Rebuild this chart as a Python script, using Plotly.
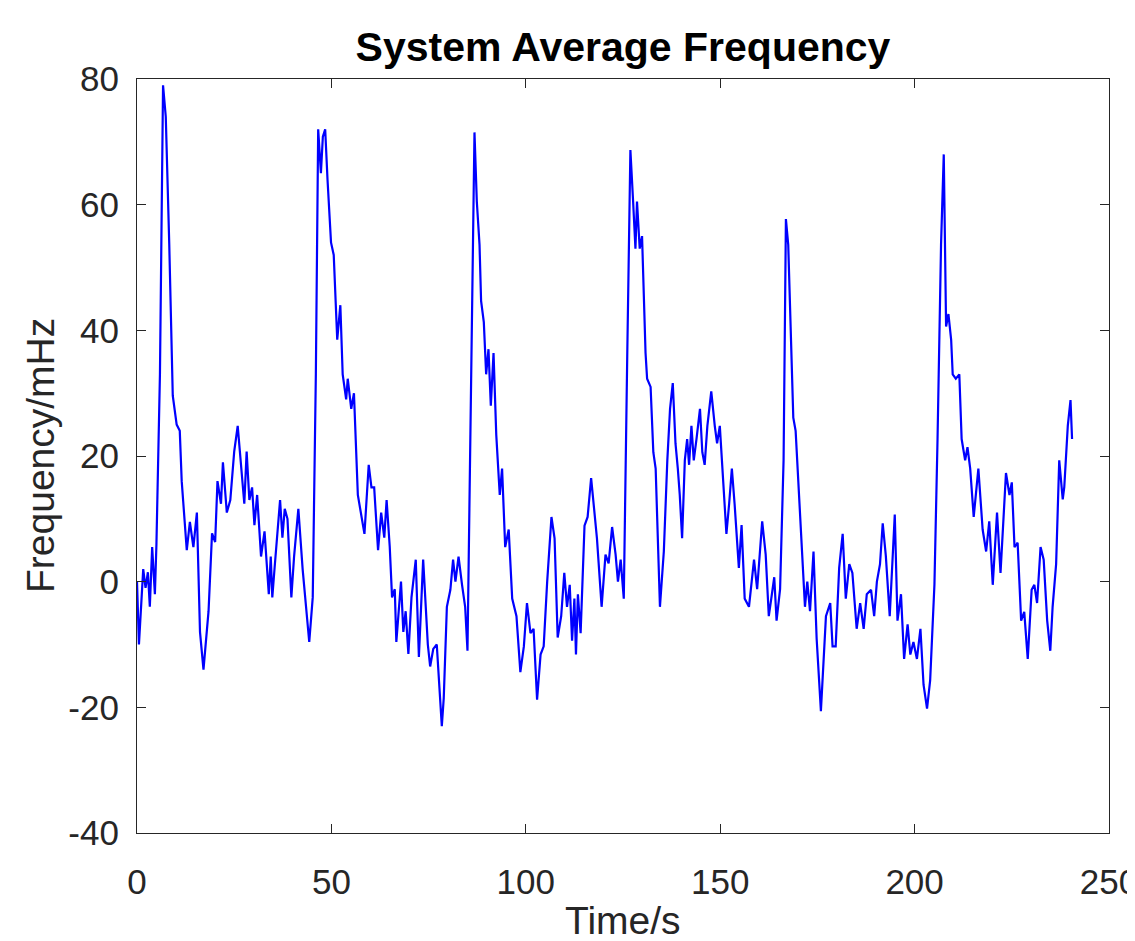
import plotly.graph_objects as go

time_s = [
    0, 0.5, 1.6, 2.2, 2.8, 3.3, 3.9, 4.6, 5.0, 5.9, 6.7, 7.4, 8.3, 9.2, 10.2, 11.0, 11.5, 12.3, 12.8, 13.6,
    14.5, 15.4, 16.2, 17.1, 18.4, 19.3, 20.1, 20.7, 21.6, 22.1, 23.1, 24.0, 25.0, 25.9, 27.0, 27.6, 28.2, 28.9,
    29.6, 30.2, 30.9, 31.9, 32.8, 33.3, 33.9, 34.4, 34.8, 35.4, 36.1, 36.8, 37.4, 38.0, 38.7, 39.7, 40.4, 41.5,
    42.6, 43.2, 44.3, 45.2, 46.0, 46.6, 47.3, 47.8, 48.4, 49.0, 49.9, 50.6, 51.5, 52.3, 52.9, 53.8, 54.2, 55.1,
    55.8, 56.8, 57.7, 58.5, 59.6, 60.3, 61.0, 62.0, 62.8, 63.6, 64.2, 65.0, 65.6, 66.3, 66.7, 67.9, 68.5, 69.1,
    69.8, 70.6, 71.7, 72.5, 73.6, 74.8, 75.4, 76.2, 77.1, 78.4, 78.9, 79.7, 80.6, 81.3, 81.9, 82.7, 83.6, 84.4,
    85.0, 85.9, 86.8, 87.4, 88.1, 88.5, 89.2, 89.8, 90.4, 91.0, 91.7, 92.4, 93.3, 93.9, 94.7, 95.6, 96.5, 97.6,
    98.6, 99.5, 100.3, 101.2, 102.0, 102.9, 103.8, 104.6, 105.5, 106.6, 107.4, 108.2, 109.1, 109.9, 110.6, 111.3,
    111.9, 112.5, 112.9, 113.4, 114.1, 115.1, 115.9, 116.8, 117.5, 118.3, 119.5, 120.5, 121.3, 122.2, 123.1, 123.7,
    124.4, 125.2, 126.1, 126.9, 127.6, 128.2, 128.6, 129.3, 129.9, 130.8, 131.2, 132.1, 132.8, 133.4, 134.5, 135.5,
    136.4, 137.1, 137.8, 138.5, 139.1, 139.6, 140.2, 140.9, 141.5, 142.0, 142.6, 143.2, 143.9, 144.8, 145.4, 146.0,
    146.7, 147.7, 148.6, 149.2, 149.9, 150.8, 151.6, 152.3, 153.0, 153.7, 154.2, 154.8, 155.5, 156.3, 157.4, 158.7,
    159.5, 160.8, 161.7, 162.5, 163.0, 163.9, 164.5, 165.4, 166.3, 166.9, 167.5, 168.2, 168.8, 169.4, 170.3, 171.2,
    171.8, 172.4, 173.1, 174.0, 174.8, 175.9, 177.2, 178.3, 178.9, 179.7, 180.6, 181.5, 182.3, 183.2, 184.0, 185.1,
    186.0, 186.9, 187.7, 188.8, 189.6, 190.3, 191.1, 191.8, 192.6, 193.6, 194.9, 195.6, 196.5, 197.3, 198.2, 198.9,
    199.7, 200.6, 201.5, 202.3, 203.2, 204.0, 205.1, 205.9, 206.8, 207.5, 208.1, 208.7, 209.4, 209.8, 210.6, 211.5,
    212.1, 213.0, 213.6, 214.3, 215.2, 216.4, 217.5, 218.4, 219.2, 220.1, 221.2, 222.1, 223.5, 224.4, 225.0, 225.7,
    226.5, 227.4, 228.2, 229.1, 230.1, 230.8, 231.5, 232.4, 233.2, 234.1, 234.9, 235.5, 236.4, 237.2, 238.1, 238.5,
    239.4, 240.1, 240.5,
]

frequency_mhz = [
    0, -10, 2, -1, 1.5, -4, 5.5, -2, 6, 33, 79, 74, 53.6, 29.6, 25, 24, 16, 10, 5, 9.5,
    5.5, 11, -8, -14, -4.7, 7.7, 6.3, 16, 12.4, 19, 11, 13, 20.7, 24.8, 16.5, 12.4, 20.7, 13,
    15, 9, 13.8, 4, 8, 3.5, -2, 4, -2.5, 2.3, 7.7, 13, 7, 11.6, 10, -2.5, 4, 11.6,
    2, -2, -9.6, -2.5, 33, 72, 65, 70.8, 72, 64, 54, 52, 38.5, 44, 33, 29, 32.3, 27.5,
    30, 13.8, 10.3, 7.6, 18.6, 15, 15, 5, 11, 7, 13, 5.6, -2.5, -1.2, -9.6, 0, -8, -4.7,
    -11.5, -2.5, 3.5, -12, 3.5, -10, -13.5, -10.7, -10, -23, -18.5, -4, -1.3, 3.5, 0, 4, -0.5, -4,
    -11, 33, 71.5, 60.5, 53.6, 44.7, 41.3, 33, 37, 28, 36.4, 23.4, 13.8, 18, 5.5, 8.3, -2.7, -5.5,
    -14.4, -10.3, -3.4, -8.2, -7.5, -18.8, -11.6, -10.3, 0, 10.3, 6.9, -8.9, -5.5, 1.4, -4, -0.5,
    -9.4, -2.7, -11.6, -2, -8.2, 8.9, 10.3, 16.5, 11.7, 6.9, -4, 4.3, 2.9, 8.7, 4.3, 0,
    3.5, -2.7, 36.4, 68.7, 60.5, 53, 60.5, 53, 55, 36.4, 32.3, 31, 20.6, 18, -4, 4.8,
    19.3, 27.5, 31.6, 22, 18, 13.8, 6.9, 19.3, 22.7, 18.6, 24.8, 19.3, 22.7, 27.5, 20.6, 18.6,
    24.8, 30.3, 24.8, 22, 24.8, 15.8, 7.6, 12.4, 18, 12.4, 8.3, 2.2, 9, -2.7, -4, 3.5,
    -1.2, 9.6, 4.3, -5.5, -3.3, 0.7, -6.2, -1.2, 19.3, 57.7, 53.6, 38.5, 26.1, 24, 13.8, 3.5,
    -4, 0, -4.7, 4.8, -9, -20.6, -5.5, -3.4, -10.3, -10.3, 2.2, 7.6, -2.7, 2.8, 1.4, -7.5,
    -3.4, -7.5, -2, -1.3, -5.5, 0, 2.8, 9.3, 4.1, -5.5, 10.7, -6.2, -2, -12.3, -6.8, -11.6,
    -9.6, -12.3, -7.5, -16.4, -20.2, -15.7, -0.5, 22.7, 53.6, 68, 40.6, 42.6, 38.5, 33, 32.3, 33,
    22.7, 19.3, 21.4, 18, 10.3, 18, 8.3, 4.8, 9.6, -0.5, 11, 1.4, 17.3, 13.8, 15.8, 5.5,
    6.2, -6.2, -4.8, -12.3, -1.3, -0.5, -3.4, 5.5, 3.5, -6.2, -11, -4, 2.8, 19.3, 13.1, 15.1,
    24.8, 28.9, 22.7,
]

x_ticks = [0, 50, 100, 150, 200, 250]
y_ticks = [-40, -20, 0, 20, 40, 60, 80]

title_text = "System Average Frequency"
x_label = "Time/s"
y_label = "Frequency/mHz"

axis_color = "#262626"
font_family = "Liberation Sans, Arial, sans-serif"

# The page body adds an 8px margin; all pixel positions are offset by it.
OFF = 8
W, H = 1135 - OFF, 941 - OFF
L, R, T, B = 137 - OFF, 1109 - OFF, 79 - OFF, 833 - OFF

fig = go.Figure()
fig.add_trace(go.Scatter(
    x=time_s, y=frequency_mhz, mode="lines",
    line=dict(color="#0000FF", width=2.2),
    showlegend=False,
))

axis_common = dict(
    showline=True, linecolor=axis_color, linewidth=1.2, mirror="ticks",
    ticks="inside", ticklen=9, tickcolor=axis_color, tickwidth=1.2,
    showgrid=False, zeroline=False, automargin=False,
    ticklabeloverflow="allow",
    tickfont=dict(family=font_family, size=35, color=axis_color),
)

fig.update_layout(
    width=W, height=H,
    margin=dict(l=L, r=W - R, t=T, b=H - B),
    paper_bgcolor="white", plot_bgcolor="white",
    title=dict(
        text="<b>" + title_text + "</b>",
        font=dict(family=font_family, size=41, color="black"),
        x=(L + R) / 2 / W, xanchor="center", xref="container",
        y=1 - (47 - OFF) / H, yanchor="middle", yref="container",
    ),
    xaxis=dict(
        range=[0, 250], tickvals=x_ticks, ticktext=[str(v) for v in x_ticks],
        ticklabelstandoff=18,
        **axis_common,
    ),
    yaxis=dict(
        range=[-40, 80], tickvals=y_ticks, ticktext=[str(v) for v in y_ticks],
        ticklabelstandoff=10,
        **axis_common,
    ),
    annotations=[
        dict(text=x_label, xref="paper", yref="paper", x=0.5, y=(B - (921 - OFF)) / (B - T),
             xanchor="center", yanchor="middle", showarrow=False,
             font=dict(family=font_family, size=39, color=axis_color)),
        dict(text=y_label, xref="paper", yref="paper", x=((40 - OFF) - L) / (R - L), y=0.5,
             xanchor="center", yanchor="middle", showarrow=False, textangle=-90,
             font=dict(family=font_family, size=39, color=axis_color)),
    ],
)

fig.write_html("out.html")
